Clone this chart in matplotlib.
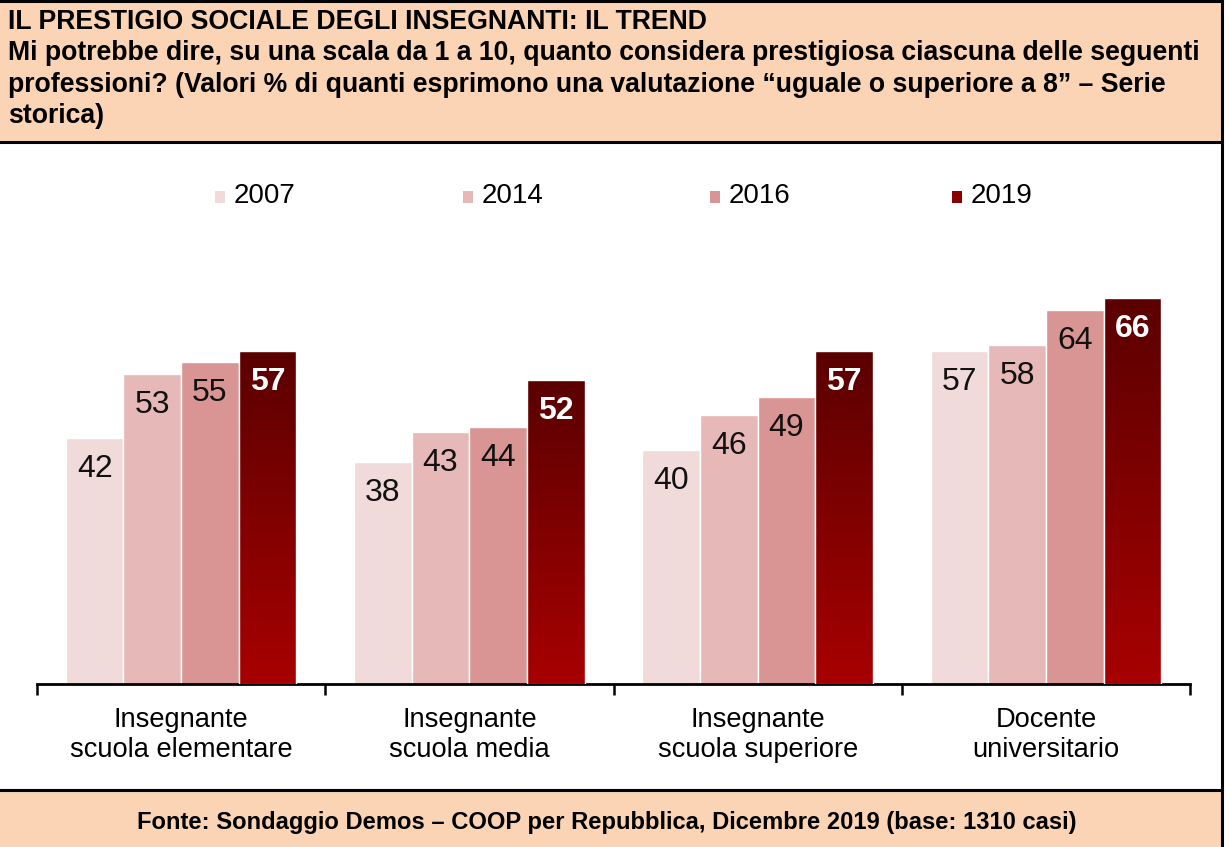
import matplotlib
matplotlib.use("Agg")
import matplotlib.pyplot as plt
import numpy as np
from matplotlib.patches import Rectangle
from matplotlib.lines import Line2D
from matplotlib.colors import LinearSegmentedColormap

plt.rcParams['font.family'] = ['Liberation Sans', 'DejaVu Sans']

categories = ["Insegnante\nscuola elementare", "Insegnante\nscuola media",
              "Insegnante\nscuola superiore", "Docente\nuniversitario"]
years = ["2007", "2014", "2016", "2019"]
v2007 = [42, 38, 40, 57]
v2014 = [53, 43, 46, 58]
v2016 = [55, 44, 49, 64]
v2019 = [57, 52, 57, 66]
series = [v2007, v2014, v2016, v2019]

title_lines = ["IL PRESTIGIO SOCIALE DEGLI INSEGNANTI: IL TREND",
               "Mi potrebbe dire, su una scala da 1 a 10, quanto considera prestigiosa ciascuna delle seguenti",
               "professioni? (Valori % di quanti esprimono una valutazione \u201cuguale o superiore a 8\u201d \u2013 Serie",
               "storica)"]
footer = "Fonte: Sondaggio Demos \u2013 COOP per Repubblica, Dicembre 2019 (base: 1310 casi)"

colors = ["#F0DADA", "#E6B8B8", "#D99594", "#8B0000"]
grad_top, grad_bot = "#5A0000", "#A80000"

W, H = 1229, 847
fig = plt.figure(figsize=(W / 100, H / 100), dpi=100)

def fx(x): return x / W
def fy(y): return 1 - y / H

# header and footer bands
peach = "#FAD4B4"
fig.patches.append(Rectangle((0, fy(142)), fx(1221), fy(1) - fy(142), transform=fig.transFigure,
                             facecolor=peach, edgecolor="none", zorder=0))
fig.patches.append(Rectangle((0, 0), fx(1221), fy(790), transform=fig.transFigure,
                             facecolor=peach, edgecolor="none", zorder=0))
for (x0, y0, x1, y1) in [(0, 1.5, 1222, 1.5), (0, 142, 1222, 142), (0, 790, 1222, 790),
                         (1221.5, 0, 1221.5, 847)]:
    fig.lines.append(Line2D([fx(x0), fx(x1)], [fy(y0), fy(y1)], transform=fig.transFigure,
                            color="black", linewidth=2.2, zorder=5))

for i, line in enumerate(title_lines):
    fig.text(fx(8), fy(22 + i * 31.3), line, fontsize=19.2, fontweight="bold",
             ha="left", va="center")
fig.text(fx(607), fy(822), footer, fontsize=17.1, fontweight="bold", ha="center", va="center")

# axes
ymax = 70
px_per_unit = 5.85
ax_bottom, ax_left, ax_right = 684, 37, 1190
ax_top = ax_bottom - ymax * px_per_unit
ax = fig.add_axes([fx(ax_left), fy(ax_bottom), fx(ax_right - ax_left), (ax_bottom - ax_top) / H])
ax.set_xlim(-0.5, len(categories) - 0.5)
ax.set_ylim(0, ymax)
for s in ["top", "right", "left"]:
    ax.spines[s].set_visible(False)
ax.spines["bottom"].set_linewidth(2)
ax.set_yticks([])
ax.set_xticks(np.arange(-0.5, len(categories)), minor=False)
ax.set_xticklabels([])
ax.tick_params(axis="x", direction="out", length=8, width=1.8, color="black")

x = np.arange(len(categories))
bw = 0.2
cmap = LinearSegmentedColormap.from_list("g", [grad_bot, grad_top])
for j, (vals, col) in enumerate(zip(series, colors)):
    pos = x + (j - 1.5) * bw
    if j < 3:
        bars = ax.bar(pos, vals, width=bw, color=col, edgecolor="white", linewidth=1, zorder=2)
    else:
        bars = ax.bar(pos, vals, width=bw, color="none", edgecolor="white", linewidth=1, zorder=3)
        for b in bars:
            bx, by = b.get_x(), b.get_height()
            grad = np.linspace(0, 1, 256).reshape(-1, 1)
            im = ax.imshow(grad, cmap=cmap, origin="lower", aspect="auto",
                           extent=[bx, bx + b.get_width(), 0, by], zorder=2)
            im.set_clip_path(b)
    for p, v in zip(pos, vals):
        if j < 3:
            ax.text(p, v - 5.3, str(v), ha="center", va="center", fontsize=23, color="#111111", zorder=4)
        else:
            ax.text(p, v - 5.3, str(v), ha="center", va="center", fontsize=23, fontweight="bold",
                    color="white", zorder=4)

ax.set_xlim(-0.5, len(categories) - 0.5)
ax.set_ylim(0, ymax)

for xi, cat in zip(x, categories):
    ax.text(xi, -4.0, cat, ha="center", va="top", fontsize=19.6, linespacing=1.2,
            transform=ax.transData, clip_on=False)

# legend
leg_x = [215, 463, 710, 952]
leg_colors = colors[:3] + ["#8B0000"]
for lx, yr, c in zip(leg_x, years, leg_colors):
    fig.patches.append(Rectangle((fx(lx), fy(203)), fx(10), 12 / H, transform=fig.transFigure,
                                 facecolor=c, edgecolor="none"))
    fig.text(fx(lx + 19), fy(196), yr, fontsize=20, ha="left", va="center")

fig.savefig("out.png", dpi=100)
